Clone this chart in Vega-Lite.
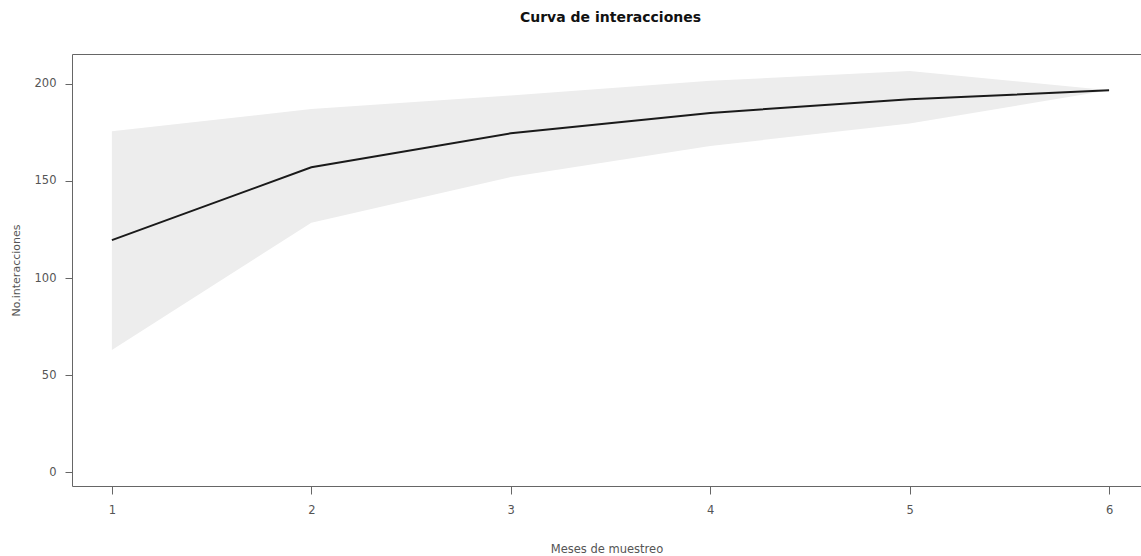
{
  "$schema": "https://vega.github.io/schema/vega-lite/v6.json",
  "autosize": "none",
  "width": 1069,
  "height": 432,
  "padding": {"left": 72, "top": 54, "right": 0, "bottom": 70},
  "background": "white",
  "config": {
    "view": {"stroke": null},
    "font": "DejaVu Sans"
  },
  "title": {
    "text": "Curva de interacciones",
    "fontSize": 14,
    "fontWeight": "bold",
    "color": "#111",
    "anchor": "middle",
    "dx": 4,
    "offset": 29
  },
  "data": {
    "values": [
      {"mes": 1, "media": 119.5, "inf": 63, "sup": 175.5},
      {"mes": 2, "media": 157, "inf": 128.5, "sup": 187},
      {"mes": 3, "media": 174.5, "inf": 152, "sup": 194},
      {"mes": 4, "media": 185, "inf": 168, "sup": 201.5},
      {"mes": 5, "media": 192, "inf": 179.5, "sup": 206.5},
      {"mes": 6, "media": 196.6, "inf": 196.6, "sup": 196.6}
    ]
  },
  "layer": [
    {
      "mark": {"type": "area", "color": "#ededed", "opacity": 1},
      "encoding": {
        "x": {
          "field": "mes", "type": "quantitative",
          "scale": {"domain": [0.8, 6.16], "nice": false, "zero": false},
          "axis": {
            "orient": "bottom",
            "values": [1, 2, 3, 4, 5, 6],
            "grid": false,
            "domainColor": "#666", "domainWidth": 1,
            "tickColor": "#666", "tickSize": 8,
            "labelColor": "#555", "labelFontSize": 11.5, "labelPadding": 10,
            "title": "Meses de muestreo",
            "titleFontSize": 11.5, "titleFontWeight": "normal", "titleColor": "#555",
            "titlePadding": 28
          }
        },
        "y": {
          "field": "inf", "type": "quantitative",
          "scale": {"domain": [-7, 215.3], "nice": false, "zero": false},
          "axis": {
            "orient": "left",
            "values": [0, 50, 100, 150, 200],
            "grid": false,
            "domainColor": "#666", "domainWidth": 1,
            "tickColor": "#666", "tickSize": 7,
            "labelColor": "#555", "labelFontSize": 11.5, "labelPadding": 9,
            "title": "No.interacciones",
            "titleFontSize": 11, "titleFontWeight": "normal", "titleColor": "#555",
            "titlePadding": 13
          }
        },
        "y2": {"field": "sup"}
      }
    },
    {
      "mark": {"type": "line", "color": "#1a1a1a", "strokeWidth": 2},
      "encoding": {
        "x": {
          "field": "mes", "type": "quantitative",
          "axis": {
            "orient": "top",
            "labels": false, "ticks": false, "grid": false,
            "domainColor": "#666", "domainWidth": 1,
            "title": null
          }
        },
        "y": {"field": "media", "type": "quantitative"}
      }
    }
  ]
}
